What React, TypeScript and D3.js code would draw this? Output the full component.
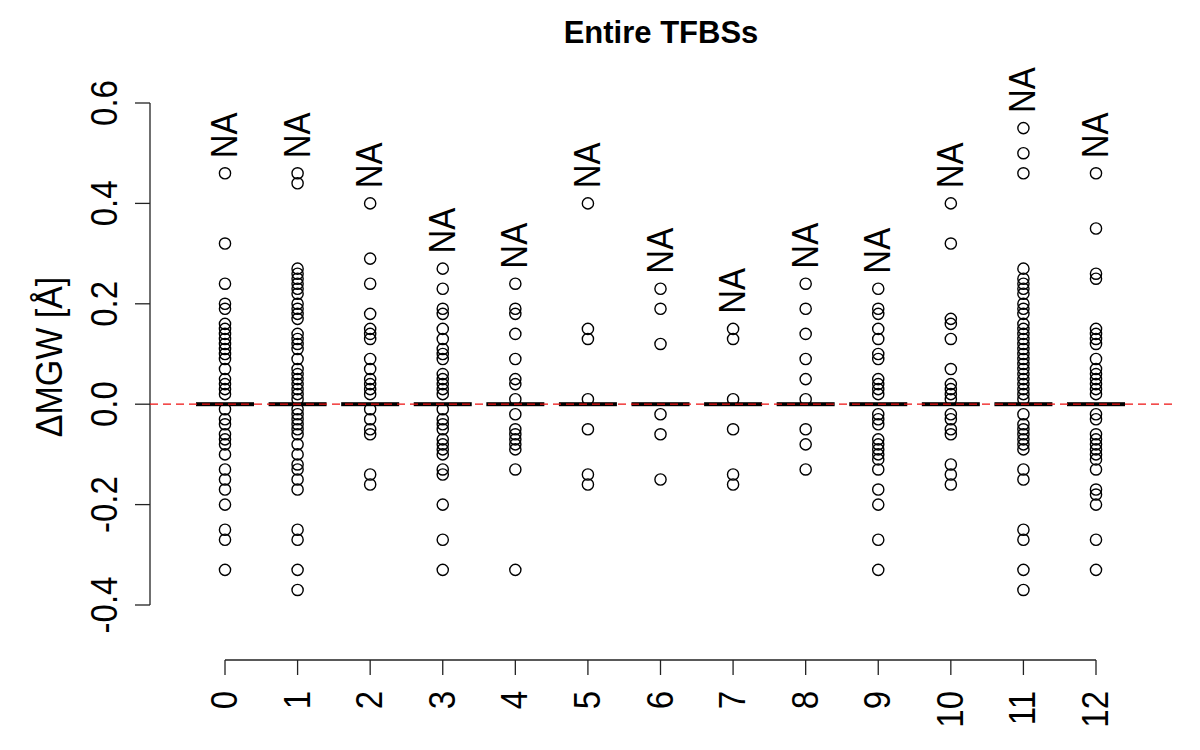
import React from "react";
import * as d3 from "d3";

const categories = ["0", "1", "2", "3", "4", "5", "6", "7", "8", "9", "10", "11", "12"];
const yTicks = [-0.4, -0.2, 0.0, 0.2, 0.4, 0.6];

const g0 = [0.46, 0.32, 0.24, 0.2, 0.19, 0.16, 0.15, 0.14, 0.13, 0.12, 0.11, 0.1, 0.09, 0.07, 0.05, 0.04, 0.03, 0.02, -0.01, -0.03, -0.04, -0.06, -0.07, -0.08, -0.1, -0.13, -0.15, -0.17, -0.2, -0.25, -0.27, -0.33];
const g1 = [0.46, 0.44, 0.27, 0.26, 0.25, 0.24, 0.23, 0.22, 0.2, 0.19, 0.18, 0.17, 0.14, 0.13, 0.12, 0.11, 0.09, 0.07, 0.06, 0.05, 0.04, 0.03, 0.02, 0.01, -0.01, -0.02, -0.03, -0.04, -0.05, -0.06, -0.08, -0.1, -0.12, -0.13, -0.15, -0.17, -0.25, -0.27, -0.33, -0.37];
const g2 = [0.4, 0.29, 0.24, 0.18, 0.15, 0.14, 0.13, 0.09, 0.07, 0.05, 0.04, 0.03, 0.02, -0.01, -0.03, -0.05, -0.06, -0.14, -0.16];
const g3 = [0.27, 0.23, 0.19, 0.18, 0.15, 0.13, 0.11, 0.1, 0.09, 0.06, 0.05, 0.04, 0.03, 0.02, -0.01, -0.03, -0.04, -0.05, -0.07, -0.08, -0.09, -0.1, -0.13, -0.14, -0.2, -0.27, -0.33];
const g4 = [0.24, 0.19, 0.18, 0.14, 0.09, 0.05, 0.04, 0.01, -0.02, -0.05, -0.06, -0.07, -0.08, -0.09, -0.13, -0.33];
const g5 = [0.4, 0.15, 0.13, 0.01, -0.05, -0.14, -0.16];
const g6 = [0.23, 0.19, 0.12, -0.02, -0.06, -0.15];
const g7 = [0.15, 0.13, 0.01, -0.05, -0.14, -0.16];
const g8 = [0.24, 0.19, 0.14, 0.09, 0.05, 0.01, -0.05, -0.08, -0.13];
const g9 = [0.23, 0.19, 0.18, 0.15, 0.13, 0.1, 0.09, 0.05, 0.04, 0.03, 0.02, -0.02, -0.03, -0.04, -0.07, -0.08, -0.09, -0.1, -0.11, -0.13, -0.17, -0.2, -0.27, -0.33];
const g10 = [0.4, 0.32, 0.17, 0.16, 0.13, 0.07, 0.04, 0.03, 0.02, 0.01, -0.02, -0.03, -0.05, -0.06, -0.12, -0.14, -0.16];
const g11 = [0.55, 0.5, 0.46, 0.27, 0.25, 0.24, 0.23, 0.22, 0.2, 0.19, 0.18, 0.16, 0.15, 0.14, 0.13, 0.12, 0.11, 0.1, 0.09, 0.08, 0.07, 0.06, 0.05, 0.04, 0.03, 0.02, 0.01, -0.02, -0.04, -0.05, -0.06, -0.07, -0.08, -0.09, -0.13, -0.15, -0.25, -0.27, -0.33, -0.37];
const g12 = [0.46, 0.35, 0.26, 0.25, 0.15, 0.14, 0.13, 0.12, 0.09, 0.07, 0.06, 0.05, 0.04, 0.03, 0.02, -0.02, -0.03, -0.06, -0.07, -0.08, -0.09, -0.1, -0.11, -0.13, -0.17, -0.18, -0.2, -0.27, -0.33];
const outliers = [g0, g1, g2, g3, g4, g5, g6, g7, g8, g9, g10, g11, g12];
const medians = [0, 0, 0, 0, 0, 0, 0, 0, 0, 0, 0, 0, 0];
const naLabel = "NA";

const FONT = "'Liberation Sans', Arial, Helvetica, sans-serif";
const fmt = (t: number) => t.toFixed(1).replace("\u2212", "-");

export default function App() {
  const x = d3.scaleLinear().domain([0, 12]).range([225, 1096]);
  const y = d3.scaleLinear().domain([-0.4, 0.6]).range([605, 103]);
  const plotLeft = 150;
  const plotRight = 1172;
  const axisY = 660;
  const boxHalf = 29;
  const sx = 1.1;

  return (
    <svg width={1200} height={750} style={{ position: "absolute", left: 0, top: 0, background: "#fff" }}>
      <rect x={0} y={0} width={1200} height={750} fill="#fff" />
      {/* title */}
      <text x={661} y={43} textAnchor="middle" fontFamily={FONT} fontWeight="bold" fontSize={31}>
        Entire TFBSs
      </text>
      {/* y axis */}
      <line x1={plotLeft} x2={plotLeft} y1={y(0.6)} y2={y(-0.4)} stroke="#222" strokeWidth={1.3} />
      {yTicks.map((t) => (
        <g key={"yt" + t}>
          <line x1={plotLeft - 15} x2={plotLeft} y1={y(t)} y2={y(t)} stroke="#222" strokeWidth={1.3} />
          <text
            transform={`translate(117,${y(t)}) scale(${sx},1) rotate(-90)`}
            textAnchor="middle"
            fontFamily={FONT}
            fontSize={33}
          >
            {fmt(t)}
          </text>
        </g>
      ))}
      <text
        transform={`translate(62,${y(0.1) + 3}) scale(${sx},1) rotate(-90)`}
        textAnchor="middle"
        fontFamily={FONT}
        fontSize={34}
      >
        ΔMGW [Å]
      </text>
      {/* x axis */}
      <line x1={x(0)} x2={x(12)} y1={axisY} y2={axisY} stroke="#222" strokeWidth={1.3} />
      {categories.map((c, i) => (
        <g key={"xt" + c}>
          <line x1={x(i)} x2={x(i)} y1={axisY} y2={axisY + 15} stroke="#222" strokeWidth={1.3} />
          <text
            transform={`translate(${x(i) + 12},691) scale(${sx},1) rotate(-90)`}
            textAnchor="end"
            fontFamily={FONT}
            fontSize={33}
          >
            {c}
          </text>
        </g>
      ))}
      {/* collapsed boxes */}
      {medians.map((m, i) => (
        <g key={"box" + i}>
          <rect x={x(i) - boxHalf} y={y(m) - 2} width={boxHalf * 2} height={4} fill="#000" />
        </g>
      ))}
      {/* outlier points */}
      {outliers.map((vals, i) => (
        <g key={"pts" + i}>
          {vals.map((v, j) => (
            <circle key={j} cx={x(i)} cy={y(v)} r={5.6} fill="none" stroke="#000" strokeWidth={1.4} />
          ))}
        </g>
      ))}
      {/* zero reference line */}
      <line
        x1={plotLeft}
        x2={plotRight}
        y1={y(0)}
        y2={y(0)}
        stroke="#ee1111"
        strokeWidth={1.2}
        strokeDasharray="8 5"
      />
      {/* NA labels */}
      {outliers.map((vals, i) => (
        <text
          key={"na" + i}
          transform={`translate(${x(i) + 12},${y((d3.max(vals) as number) + 0.03)}) scale(${sx},1) rotate(-90)`}
          textAnchor="start"
          fontFamily={FONT}
          fontSize={33}
        >
          {naLabel}
        </text>
      ))}
    </svg>
  );
}
